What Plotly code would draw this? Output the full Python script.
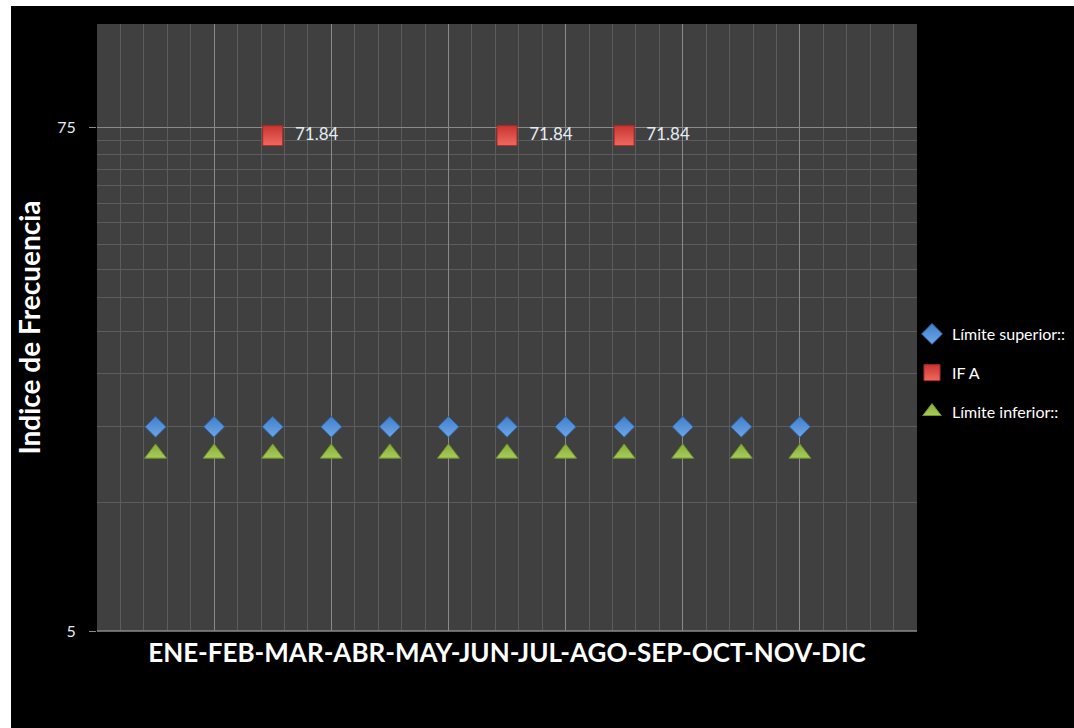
import plotly.graph_objects as go

months_title = "ENE-FEB-MAR-ABR-MAY-JUN-JUL-AGO-SEP-OCT-NOV-DIC"
x_pos = [1, 2, 3, 4, 5, 6, 7, 8, 9, 10, 11, 12]
lim_sup = [15, 15, 15, 15, 15, 15, 15, 15, 15, 15, 15, 15]
lim_inf = [13, 13, 13, 13, 13, 13, 13, 13, 13, 13, 13, 13]
ifa_x = [3, 7, 9]
ifa_y = [71.84, 71.84, 71.84]
ifa_labels = ["71.84", "71.84", "71.84"]
y_ticks = [5, 75]
y_minor = [10, 15, 20, 25, 30, 35, 40, 45, 50, 55, 60, 65, 70]

W, H = 1074, 728
L, R, T, B = 97, 917, 24, 631
FONT = "Lato, sans-serif"

fig = go.Figure()
fig.add_trace(go.Scatter(
    x=x_pos, y=lim_sup, mode="markers", name="Límite superior::",
    legendgroup="a",
    marker=dict(symbol="diamond", size=16, color="#3f7fcc",
                line=dict(color="#2f66a8", width=1),
                gradient=dict(type="vertical", color="#6fa6e6")),
))
fig.add_trace(go.Scatter(
    x=ifa_x, y=ifa_y, mode="markers+text", name="IF A",
    legendgroup="b",
    text=ifa_labels, texttemplate="\u00a0\u00a0%{text}",
    textposition="middle right",
    textfont=dict(family=FONT, size=17, color="#e4ecf4"),
    marker=dict(symbol="square", size=20, color="#c93530",
                line=dict(color="#a82a26", width=1),
                gradient=dict(type="vertical", color="#ef6a60")),
))
fig.add_trace(go.Scatter(
    x=x_pos, y=lim_inf, mode="markers", name="Límite inferior::",
    legendgroup="c",
    marker=dict(symbol="triangle-up", size=19, color="#86ad38",
                line=dict(color="#6f9129", width=1),
                gradient=dict(type="vertical", color="#a8cc5a")),
))

def px_x(p):
    return (p - L) / (R - L)

def px_y(p):
    return (B - p) / (B - T)

shapes = [
    dict(type="rect", xref="paper", yref="paper", x0=px_x(-20), x1=px_x(11),
         y0=px_y(760), y1=px_y(-20), fillcolor="white", line_width=0, layer="above"),
    dict(type="rect", xref="paper", yref="paper", x0=px_x(-20), x1=px_x(1100),
         y0=px_y(6), y1=px_y(-20), fillcolor="white", line_width=0, layer="above"),
    dict(type="line", xref="paper", yref="paper", x0=0, x1=1, y0=0, y1=0,
         line=dict(color="#8a8a8a", width=1.5)),
]

fig.update_layout(
    width=W, height=H,
    margin=dict(l=L, r=W - R, t=T, b=H - B, autoexpand=False),
    paper_bgcolor="black", plot_bgcolor="#404040",
    showlegend=True,
    shapes=shapes,
    legend=dict(x=px_x(912), xanchor="left", y=px_y(373), yanchor="middle",
                font=dict(family=FONT, size=16, color="white"),
                traceorder="grouped", tracegroupgap=15,
                bgcolor="rgba(0,0,0,0)"),
    xaxis=dict(range=[0, 14], dtick=2, tick0=0, showticklabels=False,
               showgrid=True, gridcolor="#8a8a8a", gridwidth=1, zeroline=False,
               showline=False, ticks="",
               minor=dict(dtick=0.4, tick0=0, showgrid=True, gridcolor="#5c5c5c", gridwidth=1),
               title=dict(text=months_title, standoff=12,
                          font=dict(family=FONT, size=26, color="white", weight="bold"))),
    yaxis=dict(type="log", range=[0.69897, 2.1173], tickvals=y_ticks,
               ticktext=[str(v) for v in y_ticks],
               showgrid=True, gridcolor="#8a8a8a", gridwidth=1, zeroline=False,
               ticks="outside", ticklen=7, tickcolor="#8a8a8a",
               ticklabelstandoff=10,
               tickfont=dict(family=FONT, size=16, color="#e4ecf4"),
               minor=dict(tickvals=y_minor, showgrid=True, gridcolor="#5c5c5c",
                          gridwidth=1, ticks=""),
               title=dict(text="Indice de Frecuencia", standoff=8,
                          font=dict(family=FONT, size=28, color="white", weight="bold"))),
)

fig.write_html("out.html", config={"displayModeBar": False},
               post_script="document.body.style.margin='0';document.body.style.overflow='hidden';")
